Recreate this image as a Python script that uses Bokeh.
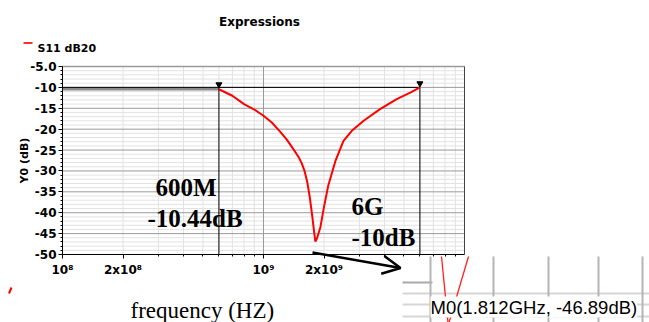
import math
from bokeh.plotting import figure
from bokeh.models import FixedTicker, Label, Arrow, OpenHead, Range1d, LinearAxis, LogAxis
from bokeh.embed import file_html
from bokeh.resources import INLINE

# ---------------- data ----------------
freq_ghz = [0.6, 0.7, 0.8, 0.9, 1.0, 1.1, 1.2, 1.3, 1.4, 1.5, 1.55, 1.6, 1.65, 1.7,
            1.75, 1.79, 1.812, 1.85, 1.92, 2.0, 2.1, 2.28, 2.5, 2.75, 3.15, 3.8,
            4.6, 5.4, 6.0]
s11_db = [-10.44, -12.0, -14.0, -15.3, -16.8, -18.4, -20.4, -22.4, -24.6, -26.8,
          -28.2, -30.0, -32.6, -36.3, -41.0, -45.0, -46.89, -46.0, -43.4, -38.6,
          -33.5, -27.6, -22.8, -20.4, -18.0, -15.2, -12.8, -11.2, -10.0]
marker_freq_hz = [6e8, 6e9]
marker_db = [-10.44, -10.0]
spec_level_db = -10.0

x_limits = [1e8, 1e10]
y_limits = [-50, -5]
x_major_ticks = [1e8, 2e8, 1e9, 2e9]
x_tick_labels = {1e8: "10⁸", 2e8: "2x10⁸", 1e9: "10⁹", 2e9: "2x10⁹"}
x_minor_ticks = [3e8, 4e8, 5e8, 6e8, 7e8, 8e8, 9e8, 3e9, 4e9, 5e9, 6e9, 7e9, 8e9, 9e9]
x_grid_major = [1e9]
x_grid_minor = [2e8, 3e8, 4e8, 5e8, 6e8, 7e8, 8e8, 9e8,
                2e9, 3e9, 4e9, 5e9, 6e9, 7e9, 8e9, 9e9]
y_major_ticks = [-5, -10, -15, -20, -25, -30, -35, -40, -45, -50]
y_tick_labels = {-5: "-5.0", -10: "-10", -15: "-15", -20: "-20", -25: "-25",
                 -30: "-30", -35: "-35", -40: "-40", -45: "-45", -50: "-50"}
y_minor_ticks = list(range(-50, -4))
y_grid_major = [-10, -15, -20, -25, -30, -35, -40, -45]
y_grid_minor = [v for v in range(-49, -5) if v % 5 != 0]

freq_hz = [f * 1e9 for f in freq_ghz]

# ---------------- layout (page pixels) ----------------
W, H = 649, 322
OX, OY = 0, 0            # canvas offset on the page
FL, FT, FW, FH = 62 - OX, 66 - OY, 402, 188  # data box inside canvas

lx0 = 8 - FL * 2 / FW
lx1 = 8 + (W - FL) * 2 / FW
y_top = -5 + FT * 45 / FH
y_bot = -5 - (H - FT) * 45 / FH

p = figure(width=W, height=H, output_backend="svg", toolbar_location=None,
           title=None, x_axis_type="log", x_axis_location=None, y_axis_location=None,
           x_range=Range1d(10 ** lx0, 10 ** lx1), y_range=Range1d(y_bot, y_top),
           min_border=0)
p.background_fill_color = "white"
p.border_fill_color = "white"
p.outline_line_color = None
p.xgrid.visible = False
p.ygrid.visible = False


def X(xp):
    return 10 ** (8 + 2 * (xp - OX - FL) / FW)


def Y(yp):
    return -5 - 45 * (yp - OY - FT) / FH


# grid
p.segment(x0=x_grid_minor, y0=[y_limits[0]] * len(x_grid_minor), x1=x_grid_minor,
          y1=[y_limits[1]] * len(x_grid_minor), line_color="#e2e2e2", line_width=1)
p.segment(x0=[x_limits[0]] * len(y_grid_minor), y0=y_grid_minor,
          x1=[x_limits[1]] * len(y_grid_minor), y1=y_grid_minor, line_color="#e2e2e2", line_width=1)
p.segment(x0=x_grid_major, y0=[y_limits[0]] * len(x_grid_major), x1=x_grid_major,
          y1=[y_limits[1]] * len(x_grid_major), line_color="#9a9a9a", line_width=1)
p.segment(x0=[x_limits[0]] * len(y_grid_major), y0=y_grid_major,
          x1=[x_limits[1]] * len(y_grid_major), y1=y_grid_major, line_color="#9a9a9a", line_width=1)
# frame edges
p.segment(x0=[x_limits[0]], y0=[y_limits[1]], x1=[x_limits[1]], y1=[y_limits[1]],
          line_color="#9a9a9a", line_width=1.5)
p.segment(x0=[x_limits[1]], y0=[y_limits[0]], x1=[x_limits[1]], y1=[y_limits[1]],
          line_color="#444444", line_width=1)

# axes drawn at the data box edges
xaxis = LogAxis(fixed_location=y_limits[0], bounds=tuple(x_limits),
                ticker=FixedTicker(ticks=x_major_ticks, minor_ticks=x_minor_ticks),
                major_label_overrides=x_tick_labels)
yaxis = LinearAxis(fixed_location=x_limits[0], bounds=tuple(y_limits),
                   ticker=FixedTicker(ticks=y_major_ticks, minor_ticks=y_minor_ticks),
                   major_label_overrides=y_tick_labels)
for ax in (xaxis, yaxis):
    ax.axis_line_color = "black"
    ax.major_tick_line_color = "black"
    ax.minor_tick_line_color = "black"
    ax.major_tick_out = 4
    ax.major_tick_in = 0
    ax.minor_tick_out = 2
    ax.minor_tick_in = 0
    ax.major_label_text_font = "DejaVu Sans"
    ax.major_label_text_font_size = "12px"
    ax.major_label_text_font_style = "bold"
    ax.major_label_text_color = "black"
xaxis.major_label_standoff = 4
yaxis.major_label_standoff = 2
p.add_layout(xaxis, "below")
p.add_layout(yaxis, "left")

# marker guide lines
p.segment(x0=[x_limits[0]], y0=[marker_db[0]], x1=[marker_freq_hz[0]], y1=[marker_db[0]],
          line_color="#8a8a8a", line_width=2.5)
p.segment(x0=[x_limits[0]], y0=[spec_level_db], x1=[marker_freq_hz[1]], y1=[spec_level_db],
          line_color="black", line_width=1)
p.segment(x0=marker_freq_hz, y0=[y_limits[0]] * 2, x1=marker_freq_hz, y1=[spec_level_db] * 2,
          line_color="black", line_width=1)

# curve
p.line(freq_hz, s11_db, line_color="#ff0000", line_width=2)

# marker flags
p.scatter(marker_freq_hz, [Y(84), Y(83)], marker="inverted_triangle", size=6,
          fill_color="black", line_color="black")

# ---------------- texts ----------------
sans = "DejaVu Sans"
serif = "Liberation Serif"

p.add_layout(Label(x=X(259), y=Y(21.5), text="Expressions", text_align="center",
                   text_baseline="alphabetic", text_font=sans, text_font_size="12px",
                   text_font_style="bold", text_color="black"))
p.add_layout(Arrow(end=None, x_start=X(23), y_start=Y(42.5), x_end=X(32), y_end=Y(42.5),
                   line_color="#ff3030", line_width=2))
p.add_layout(Label(x=X(37), y=Y(47.5), text="S11 dB20", text_baseline="alphabetic",
                   text_font=sans, text_font_size="11px", text_font_style="bold",
                   text_color="black"))
p.add_layout(Label(x=X(24), y=Y(160), text="Y0 (dB)", angle=math.pi / 2,
                   text_align="center", text_baseline="alphabetic", text_font=sans,
                   text_font_size="11px", text_font_style="bold", text_color="black"))

for txt, xp, yp in (("600M", 155, 187), ("-10.44dB", 147, 218),
                    ("6G", 351, 205.5), ("-10dB", 351, 236.5)):
    p.add_layout(Label(x=X(xp), y=Y(yp), text=txt, text_baseline="alphabetic",
                       text_font=serif, text_font_size="25px", text_font_style="bold",
                       text_color="black"))

p.add_layout(Label(x=X(130), y=Y(309.5), text="frequency (HZ)", text_baseline="alphabetic",
                   text_font=serif, text_font_size="23px", text_color="black"))

# small red stroke at left
p.add_layout(Arrow(end=None, x_start=X(8.5), y_start=Y(293), x_end=X(11), y_end=Y(287),
                   line_color="red", line_width=2))

# arrow toward the marker readout
p.add_layout(Arrow(end=OpenHead(size=18, line_width=2.5, line_color="black"),
                   x_start=X(312), y_start=Y(252), x_end=X(400), y_end=Y(267.5),
                   line_color="black", line_width=2.5))

# zoomed marker readout inset
for yp in (293, 304, 316):
    p.add_layout(Arrow(end=None, x_start=X(402), y_start=Y(yp), x_end=X(649), y_end=Y(yp),
                       line_color="#d6d6d6", line_width=2))
p.add_layout(Arrow(end=None, x_start=X(402), y_start=Y(282), x_end=X(432), y_end=Y(282),
                   line_color="#a8a8a8", line_width=2))
for xp in (430, 493, 548, 598, 642):
    p.add_layout(Arrow(end=None, x_start=X(xp), y_start=Y(256), x_end=X(xp), y_end=Y(322),
                       line_color="#b4b4b4", line_width=2))
p.add_layout(Arrow(end=None, x_start=X(441), y_start=Y(256), x_end=X(447.5), y_end=Y(322),
                   line_color="#ff2020", line_width=1.3))
p.add_layout(Arrow(end=None, x_start=X(468), y_start=Y(256), x_end=X(448.5), y_end=Y(322),
                   line_color="#ff2020", line_width=1.3))
p.add_layout(Label(x=X(430), y=Y(306.5), text="M0(1.812GHz, -46.89dB)",
                   text_baseline="alphabetic", text_font="Liberation Sans",
                   text_font_size="18.5px", text_color="black",
                   background_fill_color="white", border_line_color=None))

open("out.html", "w").write(file_html(p, INLINE))
